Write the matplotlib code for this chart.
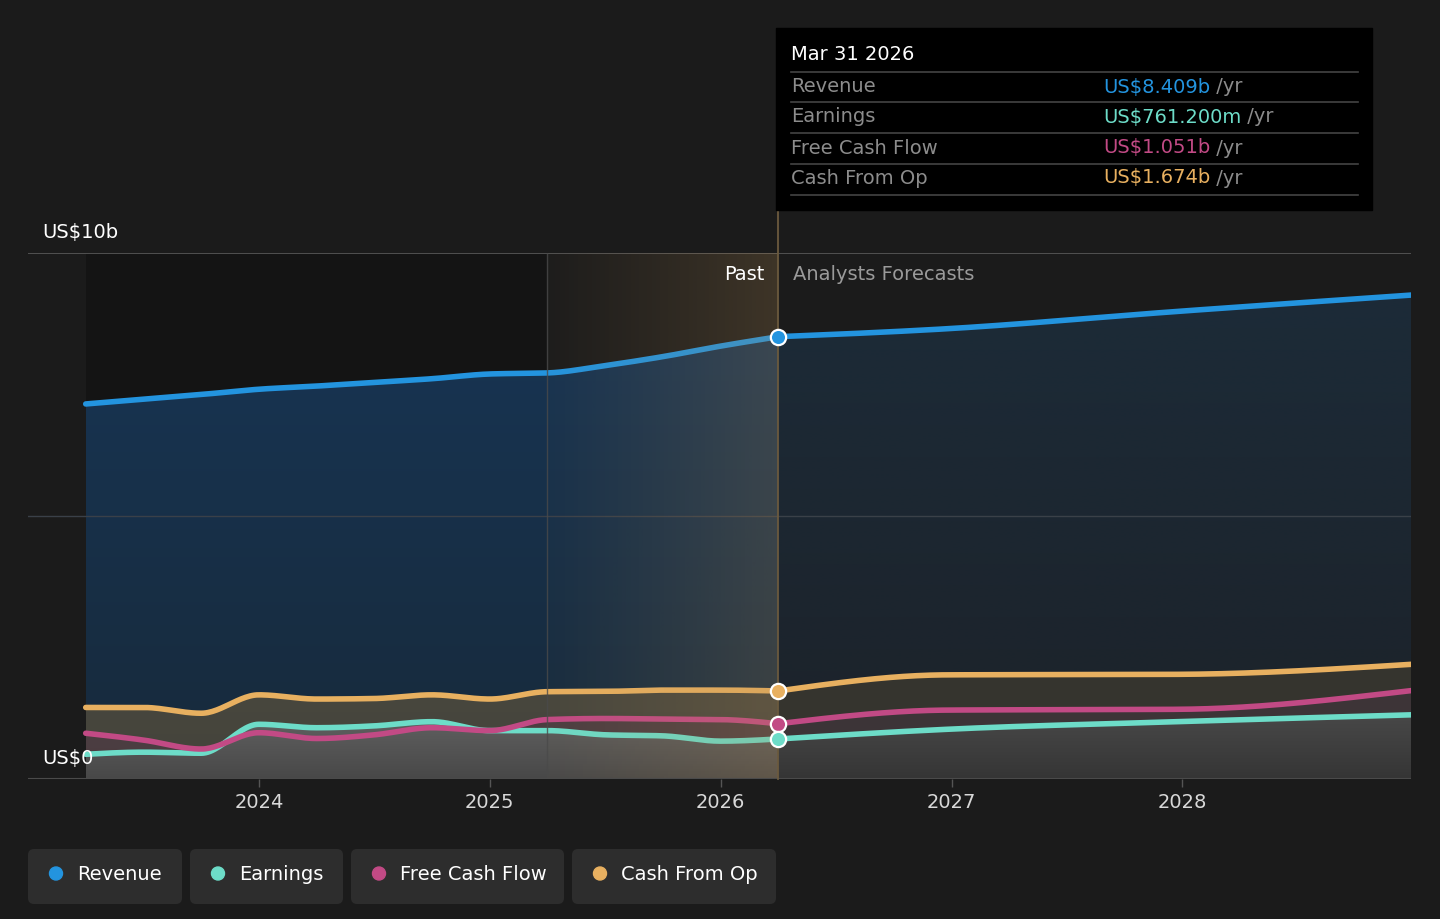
import numpy as np
import matplotlib
matplotlib.use("Agg")
import matplotlib.pyplot as plt
from matplotlib.patches import FancyBboxPatch, Rectangle, Circle
from matplotlib.colors import to_rgb

# ---------------- data (US$ billions) ----------------
past_x = [2023.25, 2023.5, 2023.75, 2024.0, 2024.25, 2024.5, 2024.75,
          2025.0, 2025.25, 2025.5, 2025.75, 2026.0, 2026.25]
fc_x = [2026.25, 2026.98, 2027.98, 2028.99]

revenue_past = [7.13, 7.22, 7.31, 7.41, 7.47, 7.54, 7.61, 7.70, 7.72, 7.86, 8.03, 8.23, 8.409]
revenue_fc = [8.409, 8.56, 8.89, 9.20]

earnings_past = [0.47, 0.51, 0.49, 1.04, 0.975, 1.01, 1.09, 0.92, 0.92, 0.84, 0.82, 0.72, 0.7612]
earnings_fc = [0.7612, 0.945, 1.09, 1.22]

fcf_past = [0.87, 0.74, 0.57, 0.88, 0.77, 0.84, 0.975, 0.92, 1.13, 1.15, 1.14, 1.13, 1.051]
fcf_fc = [1.051, 1.31, 1.325, 1.68]

cfo_past = [1.36, 1.36, 1.25, 1.60, 1.52, 1.53, 1.60, 1.52, 1.66, 1.665, 1.69, 1.69, 1.674]
cfo_fc = [1.674, 1.98, 1.99, 2.18]

year_ticks = [2024, 2025, 2026, 2027, 2028]
series_names = ["Revenue", "Earnings", "Free Cash Flow", "Cash From Op"]
tooltip_date = "Mar 31 2026"
tooltip_values = ["US$8.409b", "US$761.200m", "US$1.051b", "US$1.674b"]

# ---------------- style ----------------
BG = "#1b1b1b"
C_REV = "#2394df"
C_EARN = "#6ddcc8"
C_FCF = "#c24a85"
C_CFO = "#e8b060"
colors = [C_REV, C_EARN, C_FCF, C_CFO]
W, H = 1440, 919
FS = 14


def monotone(x, y, n=300):
    x = np.asarray(x, float)
    y = np.asarray(y, float)
    h = np.diff(x)
    s = np.diff(y) / h
    m = np.zeros_like(y)
    for i in range(1, len(x) - 1):
        if s[i - 1] * s[i] <= 0:
            m[i] = 0.0
        else:
            p = (s[i - 1] * h[i] + s[i] * h[i - 1]) / (h[i - 1] + h[i])
            m[i] = (np.sign(s[i - 1]) + np.sign(s[i])) * min(abs(s[i - 1]), abs(s[i]), 0.5 * abs(p))
    m[0] = (3 * s[0] - m[1]) / 2 if len(x) > 2 else s[0]
    m[-1] = (3 * s[-1] - m[-2]) / 2 if len(x) > 2 else s[-1]
    xs, ys = [], []
    for i in range(len(x) - 1):
        t = np.linspace(0, 1, n // (len(x) - 1) + 2)[:-1]
        h00 = 2 * t**3 - 3 * t**2 + 1
        h10 = t**3 - 2 * t**2 + t
        h01 = -2 * t**3 + 3 * t**2
        h11 = t**3 - t**2
        xs.append(x[i] + t * h[i])
        ys.append(h00 * y[i] + h10 * h[i] * m[i] + h01 * y[i + 1] + h11 * h[i] * m[i + 1])
    xs.append([x[-1]])
    ys.append([y[-1]])
    return np.concatenate(xs), np.concatenate(ys)


def grad_fill(ax, x, y, c_top, c_bot, z, a_top=1.0, a_bot=1.0):
    poly = ax.fill_between(x, y, 0, color="none", lw=0, zorder=z)
    n = 256
    ct = np.array(to_rgb(c_top))
    cb = np.array(to_rgb(c_bot))
    t = np.linspace(0, 1, n)[:, None]  # 0 top -> 1 bottom
    rgb = ct * (1 - t) + cb * t
    a = a_top * (1 - t) + a_bot * t
    img = np.concatenate([rgb, a], axis=1)[:, None, :]
    ymax = max(y)
    im = ax.imshow(img, extent=[min(x), max(x), 0, ymax], aspect="auto",
                   origin="upper", zorder=z, interpolation="bilinear")
    im.set_clip_path(poly.get_paths()[0], transform=ax.transData)


fig = plt.figure(figsize=(W / 100, H / 100), dpi=100, facecolor=BG)
ax = fig.add_axes([28 / W, 1 - 779 / H, (1411 - 28) / W, (779 - 253) / H])
ax.set_facecolor(BG)
ax.set_xlim(2023.0, 2028.99)
ax.set_ylim(0, 10)

# darker past region and highlighted last-year band
ax.axvspan(2023.25, 2025.25, color="#141414", zorder=0.5, lw=0)
band_img = np.zeros((1, 256, 4))
band_img[..., :3] = to_rgb("#b08850")
band_img[..., 3] = np.linspace(0.03, 0.27, 256) ** 1.1
ax.imshow(band_img, extent=[2025.25, 2026.25, 0, 10], aspect="auto", zorder=6,
          interpolation="bilinear")

# smoothed curves
curves = {}
for name, px_, py_, fx_, fy_ in [
    ("rev", past_x, revenue_past, fc_x, revenue_fc),
    ("cfo", past_x, cfo_past, fc_x, cfo_fc),
    ("fcf", past_x, fcf_past, fc_x, fcf_fc),
    ("earn", past_x, earnings_past, fc_x, earnings_fc),
]:
    curves[name] = (monotone(px_, py_), monotone(fx_, fy_))

# area fills (past, forecast colours)
fill_cols = {
    "rev": (("#183452", "#172a3b"), ("#1c2b38", "#1c2229")),
    "cfo": (("#48473e", "#44433b"), ("#36352f", "#34332e")),
    "fcf": (("#4d3e42", "#4a3c40"), ("#3e3538", "#3b3336")),
    "earn": (("#5f5f5f", "#484848"), ("#484848", "#353535")),
}
zf = {"rev": 1, "cfo": 1.2, "fcf": 1.4, "earn": 1.6}
for key in ["rev", "cfo", "fcf", "earn"]:
    (pa, fa) = curves[key]
    (pc, fcc) = fill_cols[key]
    grad_fill(ax, pa[0], pa[1], pc[0], pc[1], zf[key])
    grad_fill(ax, fa[0], fa[1], fcc[0], fcc[1], zf[key])

# lines
col_map = {"rev": C_REV, "cfo": C_CFO, "fcf": C_FCF, "earn": C_EARN}
for key in ["rev", "cfo", "earn", "fcf"]:
    a, b = curves[key]
    ax.plot(a[0], a[1], color=col_map[key], lw=4, solid_capstyle="round", zorder=5)
    ax.plot(b[0], b[1], color=col_map[key], lw=4, solid_capstyle="round", zorder=5)

# markers at the present point
for key, vals in [("rev", revenue_past), ("cfo", cfo_past), ("fcf", fcf_past), ("earn", earnings_past)]:
    ax.plot(past_x[-1], vals[-1], "o", ms=11, mfc=col_map[key], mec="white", mew=1.6, zorder=8)

# grid lines
ax.axhline(10, color="#5a5a5a", lw=1.2, zorder=3)
ax.axhline(5, color="#3a4048", lw=1, zorder=3)
ax.axhline(0, color="#4a4a4a", lw=1.5, zorder=7)
ax.axvline(2025.25, color="#4a4a4a", lw=1, alpha=0.8, zorder=6)
ax.plot([past_x[-1], past_x[-1]], [0, (779 - 210) / 52.6], color="#6b5a3e", lw=1.3,
        zorder=7, clip_on=False)

for s in ax.spines.values():
    s.set_visible(False)
ax.set_yticks([])
ax.set_xticks(year_ticks)
ax.set_xticklabels([str(y) for y in year_ticks], color="#d8d8d8", fontsize=FS)
ax.tick_params(axis="x", length=6, width=1, color="#555555", pad=4)

ax.text(2023.06, 0.2, "US$0", color="white", fontsize=FS, va="bottom", ha="left", zorder=9)
ax.text(2023.06, 10.2, "US$10b", color="white", fontsize=FS, va="bottom", ha="left")
ax.text(2026.19, 9.6, "Past", color="white", fontsize=FS, va="center", ha="right", zorder=9)
ax.text(2026.315, 9.6, "Analysts Forecasts", color="#9a9a9a", fontsize=FS, va="center",
        ha="left", zorder=9)

# ---------------- overlay in pixel coords ----------------
ov = fig.add_axes([0, 0, 1, 1], zorder=10)
ov.set_xlim(0, W)
ov.set_ylim(H, 0)
ov.axis("off")
ov.patch.set_alpha(0)

ov.add_patch(Rectangle((776, 28), 596, 182, color="black", zorder=1))
ov.text(791, 55, tooltip_date, color="white", fontsize=FS, va="center", ha="left")
row_y = [87, 117, 148, 178]
for yy in [72, 102, 133, 164, 195]:
    ov.plot([791, 1358], [yy, yy], color="#444444", lw=1.2)
for i in range(4):
    ov.text(791, row_y[i], series_names[i], color="#8c8c8c", fontsize=FS, va="center", ha="left")
    t = ov.text(1103, row_y[i], tooltip_values[i], color=colors[i], fontsize=FS,
                va="center", ha="left")
    ov.annotate(" /yr", xycoords=t, xy=(1, 0.5), va="center", ha="left",
                color="#8c8c8c", fontsize=FS)

# legend chips
chips = [(28, 182), (190, 343), (351, 564), (572, 776)]
for (x0, x1), name, c in zip(chips, series_names, colors):
    ov.add_patch(FancyBboxPatch((x0 + 6, 849 + 6), x1 - x0 - 12, 55 - 12,
                                boxstyle="round,pad=6", fc="#2d2d2d", ec="none"))
    ov.add_patch(Circle((x0 + 28, 873.5), 6.5, color=c))
    ov.text(x0 + 49, 874, name, color="white", fontsize=FS, va="center", ha="left")

fig.savefig("out.png", dpi=100, facecolor=BG)
